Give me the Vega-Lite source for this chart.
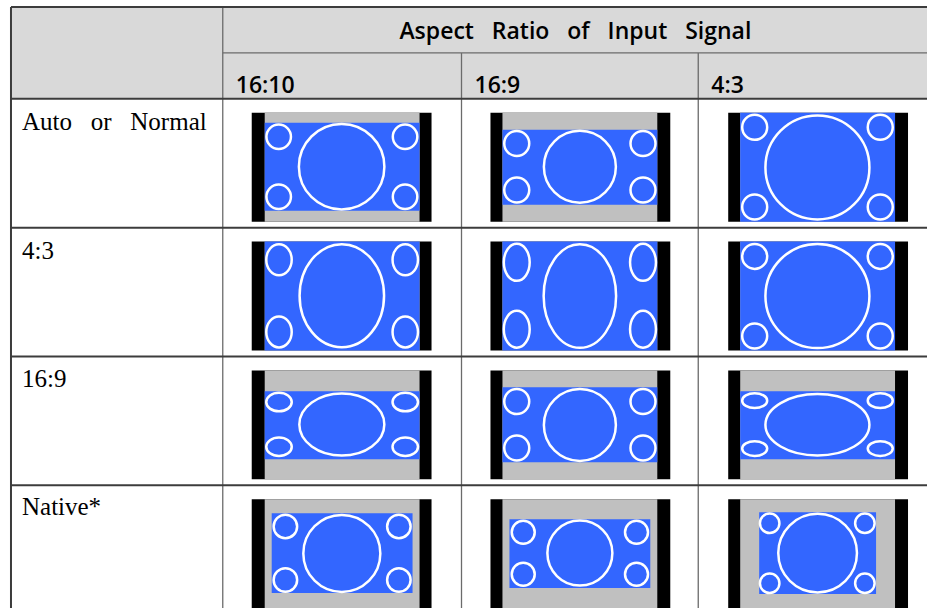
{
  "$schema": "https://vega.github.io/schema/vega-lite/v6.json",
  "width": 928,
  "height": 609,
  "padding": 0,
  "autosize": {"type": "fit", "contains": "padding"},
  "background": "white",
  "config": {"view": {"stroke": null}},
  "datasets": {
    "header": [{"x": 11, "x2": 928, "y": 7, "y2": 99}],
    "diagram": [
      {"mode": "Auto or Normal", "signal": "16:10", "part": "frame", "x": 252, "x2": 432, "y": 113, "y2": 222},
      {"mode": "Auto or Normal", "signal": "16:10", "part": "screen", "x": 265, "x2": 420, "y": 113, "y2": 222},
      {"mode": "Auto or Normal", "signal": "16:10", "part": "image", "x": 265, "x2": 420, "y": 123, "y2": 211},
      {"mode": "Auto or Normal", "signal": "16:9", "part": "frame", "x": 491, "x2": 671, "y": 113, "y2": 222},
      {"mode": "Auto or Normal", "signal": "16:9", "part": "screen", "x": 503, "x2": 658, "y": 113, "y2": 222},
      {"mode": "Auto or Normal", "signal": "16:9", "part": "image", "x": 503, "x2": 658, "y": 130, "y2": 205},
      {"mode": "Auto or Normal", "signal": "4:3", "part": "frame", "x": 729, "x2": 909, "y": 113, "y2": 222},
      {"mode": "Auto or Normal", "signal": "4:3", "part": "screen", "x": 741, "x2": 896, "y": 113, "y2": 222},
      {"mode": "Auto or Normal", "signal": "4:3", "part": "image", "x": 741, "x2": 896, "y": 113, "y2": 222},
      {"mode": "4:3", "signal": "16:10", "part": "frame", "x": 252, "x2": 432, "y": 242, "y2": 351},
      {"mode": "4:3", "signal": "16:10", "part": "screen", "x": 265, "x2": 420, "y": 242, "y2": 351},
      {"mode": "4:3", "signal": "16:10", "part": "image", "x": 265, "x2": 420, "y": 242, "y2": 351},
      {"mode": "4:3", "signal": "16:9", "part": "frame", "x": 491, "x2": 671, "y": 242, "y2": 351},
      {"mode": "4:3", "signal": "16:9", "part": "screen", "x": 503, "x2": 658, "y": 242, "y2": 351},
      {"mode": "4:3", "signal": "16:9", "part": "image", "x": 503, "x2": 658, "y": 242, "y2": 351},
      {"mode": "4:3", "signal": "4:3", "part": "frame", "x": 729, "x2": 909, "y": 242, "y2": 351},
      {"mode": "4:3", "signal": "4:3", "part": "screen", "x": 741, "x2": 896, "y": 242, "y2": 351},
      {"mode": "4:3", "signal": "4:3", "part": "image", "x": 741, "x2": 896, "y": 242, "y2": 351},
      {"mode": "16:9", "signal": "16:10", "part": "frame", "x": 252, "x2": 432, "y": 371, "y2": 480},
      {"mode": "16:9", "signal": "16:10", "part": "screen", "x": 265, "x2": 420, "y": 371, "y2": 480},
      {"mode": "16:9", "signal": "16:10", "part": "image", "x": 265, "x2": 420, "y": 392, "y2": 460},
      {"mode": "16:9", "signal": "16:9", "part": "frame", "x": 491, "x2": 671, "y": 371, "y2": 480},
      {"mode": "16:9", "signal": "16:9", "part": "screen", "x": 503, "x2": 658, "y": 371, "y2": 480},
      {"mode": "16:9", "signal": "16:9", "part": "image", "x": 503, "x2": 658, "y": 388, "y2": 463},
      {"mode": "16:9", "signal": "4:3", "part": "frame", "x": 729, "x2": 909, "y": 371, "y2": 480},
      {"mode": "16:9", "signal": "4:3", "part": "screen", "x": 741, "x2": 896, "y": 371, "y2": 480},
      {"mode": "16:9", "signal": "4:3", "part": "image", "x": 741, "x2": 896, "y": 392, "y2": 460},
      {"mode": "Native", "signal": "16:10", "part": "frame", "x": 252, "x2": 432, "y": 500, "y2": 609},
      {"mode": "Native", "signal": "16:10", "part": "screen", "x": 265, "x2": 420, "y": 500, "y2": 609},
      {"mode": "Native", "signal": "16:10", "part": "image", "x": 272, "x2": 413, "y": 514, "y2": 594},
      {"mode": "Native", "signal": "16:9", "part": "frame", "x": 491, "x2": 671, "y": 500, "y2": 609},
      {"mode": "Native", "signal": "16:9", "part": "screen", "x": 503, "x2": 658, "y": 500, "y2": 609},
      {"mode": "Native", "signal": "16:9", "part": "image", "x": 510, "x2": 651, "y": 520, "y2": 589},
      {"mode": "Native", "signal": "4:3", "part": "frame", "x": 729, "x2": 909, "y": 500, "y2": 609},
      {"mode": "Native", "signal": "4:3", "part": "screen", "x": 741, "x2": 896, "y": 500, "y2": 609},
      {"mode": "Native", "signal": "4:3", "part": "image", "x": 760, "x2": 877, "y": 513, "y2": 595}
    ],
    "ellipses": [
      {"mode": "Auto or Normal", "signal": "16:10", "shape": "circle", "x": 342, "y": 167, "d": 85.5},
      {"mode": "Auto or Normal", "signal": "16:10", "shape": "circle", "x": 279, "y": 137, "d": 24.5},
      {"mode": "Auto or Normal", "signal": "16:10", "shape": "circle", "x": 405.5, "y": 137, "d": 24.5},
      {"mode": "Auto or Normal", "signal": "16:10", "shape": "circle", "x": 279, "y": 197, "d": 24.5},
      {"mode": "Auto or Normal", "signal": "16:10", "shape": "circle", "x": 405.5, "y": 197, "d": 24.5},
      {"mode": "Auto or Normal", "signal": "16:9", "shape": "circle", "x": 580.5, "y": 167, "d": 72},
      {"mode": "Auto or Normal", "signal": "16:9", "shape": "circle", "x": 517.3, "y": 143.7, "d": 25},
      {"mode": "Auto or Normal", "signal": "16:9", "shape": "circle", "x": 643.7, "y": 143.7, "d": 25},
      {"mode": "Auto or Normal", "signal": "16:9", "shape": "circle", "x": 517.3, "y": 190.3, "d": 25},
      {"mode": "Auto or Normal", "signal": "16:9", "shape": "circle", "x": 643.7, "y": 190.3, "d": 25},
      {"mode": "Auto or Normal", "signal": "4:3", "shape": "circle", "x": 818.3, "y": 167.7, "d": 104},
      {"mode": "Auto or Normal", "signal": "4:3", "shape": "circle", "x": 755.5, "y": 127.5, "d": 25},
      {"mode": "Auto or Normal", "signal": "4:3", "shape": "circle", "x": 881.2, "y": 127.5, "d": 25},
      {"mode": "Auto or Normal", "signal": "4:3", "shape": "circle", "x": 755.5, "y": 207.3, "d": 25},
      {"mode": "Auto or Normal", "signal": "4:3", "shape": "circle", "x": 881.2, "y": 207.3, "d": 25},
      {"mode": "4:3", "signal": "16:10", "shape": "tallA", "x": 342.2, "y": 296.2, "d": 103},
      {"mode": "4:3", "signal": "16:10", "shape": "tallA", "x": 279.3, "y": 260.2, "d": 31},
      {"mode": "4:3", "signal": "16:10", "shape": "tallA", "x": 405.7, "y": 260.2, "d": 31},
      {"mode": "4:3", "signal": "16:10", "shape": "tallA", "x": 279.3, "y": 332.5, "d": 31},
      {"mode": "4:3", "signal": "16:10", "shape": "tallA", "x": 405.7, "y": 332.5, "d": 31},
      {"mode": "4:3", "signal": "16:9", "shape": "tallB", "x": 580.5, "y": 296.5, "d": 103.5},
      {"mode": "4:3", "signal": "16:9", "shape": "tallB", "x": 517.3, "y": 262.8, "d": 37},
      {"mode": "4:3", "signal": "16:9", "shape": "tallB", "x": 643.7, "y": 262.8, "d": 37},
      {"mode": "4:3", "signal": "16:9", "shape": "tallB", "x": 517.3, "y": 329.8, "d": 37},
      {"mode": "4:3", "signal": "16:9", "shape": "tallB", "x": 643.7, "y": 329.8, "d": 37},
      {"mode": "4:3", "signal": "4:3", "shape": "circle", "x": 818.3, "y": 296.5, "d": 104},
      {"mode": "4:3", "signal": "4:3", "shape": "circle", "x": 755.5, "y": 256.8, "d": 25},
      {"mode": "4:3", "signal": "4:3", "shape": "circle", "x": 881.2, "y": 256.8, "d": 25},
      {"mode": "4:3", "signal": "4:3", "shape": "circle", "x": 755.5, "y": 336.5, "d": 25},
      {"mode": "4:3", "signal": "4:3", "shape": "circle", "x": 881.2, "y": 336.5, "d": 25},
      {"mode": "16:9", "signal": "16:10", "shape": "wideA", "x": 342.2, "y": 425.2, "d": 85},
      {"mode": "16:9", "signal": "16:10", "shape": "wideA", "x": 279.3, "y": 402.7, "d": 25.5},
      {"mode": "16:9", "signal": "16:10", "shape": "wideA", "x": 405.7, "y": 402.7, "d": 25.5},
      {"mode": "16:9", "signal": "16:10", "shape": "wideA", "x": 279.3, "y": 447.5, "d": 25.5},
      {"mode": "16:9", "signal": "16:10", "shape": "wideA", "x": 405.7, "y": 447.5, "d": 25.5},
      {"mode": "16:9", "signal": "16:9", "shape": "circle", "x": 580.5, "y": 425.7, "d": 72},
      {"mode": "16:9", "signal": "16:9", "shape": "circle", "x": 517.3, "y": 402.2, "d": 25},
      {"mode": "16:9", "signal": "16:9", "shape": "circle", "x": 643.7, "y": 402.2, "d": 25},
      {"mode": "16:9", "signal": "16:9", "shape": "circle", "x": 517.3, "y": 448.7, "d": 25},
      {"mode": "16:9", "signal": "16:9", "shape": "circle", "x": 643.7, "y": 448.7, "d": 25},
      {"mode": "16:9", "signal": "4:3", "shape": "wideB", "x": 818.3, "y": 425.5, "d": 104},
      {"mode": "16:9", "signal": "4:3", "shape": "wideB", "x": 755.5, "y": 401.3, "d": 25},
      {"mode": "16:9", "signal": "4:3", "shape": "wideB", "x": 881.2, "y": 401.3, "d": 25},
      {"mode": "16:9", "signal": "4:3", "shape": "wideB", "x": 755.5, "y": 449.3, "d": 25},
      {"mode": "16:9", "signal": "4:3", "shape": "wideB", "x": 881.2, "y": 449.3, "d": 25},
      {"mode": "Native", "signal": "16:10", "shape": "circle", "x": 342.2, "y": 554.3, "d": 77},
      {"mode": "Native", "signal": "16:10", "shape": "circle", "x": 285.7, "y": 527.3, "d": 23.5},
      {"mode": "Native", "signal": "16:10", "shape": "circle", "x": 399.3, "y": 527.3, "d": 23.5},
      {"mode": "Native", "signal": "16:10", "shape": "circle", "x": 285.7, "y": 581, "d": 23.5},
      {"mode": "Native", "signal": "16:10", "shape": "circle", "x": 399.3, "y": 581, "d": 23.5},
      {"mode": "Native", "signal": "16:9", "shape": "circle", "x": 580.5, "y": 554, "d": 65},
      {"mode": "Native", "signal": "16:9", "shape": "circle", "x": 523.8, "y": 533.2, "d": 23},
      {"mode": "Native", "signal": "16:9", "shape": "circle", "x": 637.2, "y": 533.2, "d": 23},
      {"mode": "Native", "signal": "16:9", "shape": "circle", "x": 523.8, "y": 575.2, "d": 23},
      {"mode": "Native", "signal": "16:9", "shape": "circle", "x": 637.2, "y": 575.2, "d": 23},
      {"mode": "Native", "signal": "4:3", "shape": "circle", "x": 818.5, "y": 554, "d": 78.7},
      {"mode": "Native", "signal": "4:3", "shape": "circle", "x": 770.5, "y": 524.2, "d": 19.5},
      {"mode": "Native", "signal": "4:3", "shape": "circle", "x": 865.8, "y": 524.2, "d": 19.5},
      {"mode": "Native", "signal": "4:3", "shape": "circle", "x": 770.5, "y": 584.2, "d": 19.5},
      {"mode": "Native", "signal": "4:3", "shape": "circle", "x": 865.8, "y": 584.2, "d": 19.5}
    ],
    "thickLines": [
      {"x": 11, "x2": 928, "y": 7, "y2": 7},
      {"x": 11, "x2": 11, "y": 7, "y2": 609},
      {"x": 11, "x2": 928, "y": 99, "y2": 99},
      {"x": 11, "x2": 928, "y": 228, "y2": 228},
      {"x": 11, "x2": 928, "y": 357, "y2": 357},
      {"x": 11, "x2": 928, "y": 486, "y2": 486}
    ],
    "thinLines": [
      {"x": 223, "x2": 928, "y": 53, "y2": 53},
      {"x": 223, "x2": 223, "y": 7, "y2": 609},
      {"x": 462, "x2": 462, "y": 53, "y2": 609},
      {"x": 699, "x2": 699, "y": 53, "y2": 609}
    ],
    "title": [{"label": "Aspect \u00a0\u00a0Ratio \u00a0\u00a0of \u00a0\u00a0Input \u00a0\u00a0Signal", "x": 576, "y": 39}],
    "columns": [
      {"label": "16:10", "x": 236, "y": 93},
      {"label": "16:9", "x": 475, "y": 93},
      {"label": "4:3", "x": 712, "y": 93}
    ],
    "rows": [
      {"label": "Auto \u00a0\u00a0or \u00a0\u00a0Normal", "x": 22, "y": 130},
      {"label": "4:3", "x": 22, "y": 259},
      {"label": "16:9", "x": 22, "y": 388},
      {"label": "Native*", "x": 22, "y": 516}
    ]
  },
  "layer": [
    {
      "data": {"name": "header"},
      "mark": {"type": "rect", "color": "#d9d9d9"},
      "encoding": {
        "x": {"field": "x", "type": "quantitative", "scale": {"domain": [0, 928], "nice": false, "zero": false}, "axis": null},
        "x2": {"field": "x2"},
        "y": {"field": "y", "type": "quantitative", "scale": {"domain": [0, 609], "nice": false, "zero": false, "reverse": true}, "axis": null},
        "y2": {"field": "y2"}
      }
    },
    {
      "data": {"name": "diagram"},
      "mark": {"type": "rect"},
      "encoding": {
        "x": {"field": "x", "type": "quantitative", "scale": {"domain": [0, 928], "nice": false, "zero": false}, "axis": null},
        "x2": {"field": "x2"},
        "y": {"field": "y", "type": "quantitative", "scale": {"domain": [0, 609], "nice": false, "zero": false, "reverse": true}, "axis": null},
        "y2": {"field": "y2"},
        "color": {"field": "part", "type": "nominal", "scale": {"domain": ["frame", "screen", "image"], "range": ["#000000", "#c0c0c0", "#3366ff"]}, "legend": null}
      }
    },
    {
      "data": {"name": "ellipses"},
      "mark": {"type": "point", "filled": false, "color": "white", "opacity": 1, "strokeWidth": 2.5},
      "encoding": {
        "x": {"field": "x", "type": "quantitative", "scale": {"domain": [0, 928], "nice": false, "zero": false}, "axis": null},
        "y": {"field": "y", "type": "quantitative", "scale": {"domain": [0, 609], "nice": false, "zero": false, "reverse": true}, "axis": null},
        "size": {"field": "d", "type": "quantitative", "scale": {"type": "pow", "exponent": 2, "domain": [0, 100], "range": [0, 10000], "zero": true}, "legend": null},
        "shape": {"field": "shape", "type": "nominal", "scale": {"domain": ["circle", "tallA", "tallB", "wideA", "wideB"], "range": ["circle", "M-0.82,0A0.82,1,0,1,1,0.82,0A0.82,1,0,1,1,-0.82,0Z", "M-0.7,0A0.7,1,0,1,1,0.7,0A0.7,1,0,1,1,-0.7,0Z", "M-1,0A1,0.73,0,1,1,1,0A1,0.73,0,1,1,-1,0Z", "M-1,0A1,0.59,0,1,1,1,0A1,0.59,0,1,1,-1,0Z"]}, "legend": null}
      }
    },
    {
      "data": {"name": "thinLines"},
      "mark": {"type": "rule", "color": "#6b6b6b", "strokeWidth": 1.3},
      "encoding": {
        "x": {"field": "x", "type": "quantitative", "scale": {"domain": [0, 928], "nice": false, "zero": false}, "axis": null},
        "x2": {"field": "x2"},
        "y": {"field": "y", "type": "quantitative", "scale": {"domain": [0, 609], "nice": false, "zero": false, "reverse": true}, "axis": null},
        "y2": {"field": "y2"}
      }
    },
    {
      "data": {"name": "thickLines"},
      "mark": {"type": "rule", "color": "#3c3c3c", "strokeWidth": 2},
      "encoding": {
        "x": {"field": "x", "type": "quantitative", "scale": {"domain": [0, 928], "nice": false, "zero": false}, "axis": null},
        "x2": {"field": "x2"},
        "y": {"field": "y", "type": "quantitative", "scale": {"domain": [0, 609], "nice": false, "zero": false, "reverse": true}, "axis": null},
        "y2": {"field": "y2"}
      }
    },
    {
      "data": {"name": "title"},
      "mark": {"type": "text", "font": "Open Sans", "fontSize": 23, "fontWeight": 600, "align": "center", "baseline": "alphabetic", "color": "#000000"},
      "encoding": {
        "x": {"field": "x", "type": "quantitative", "scale": {"domain": [0, 928], "nice": false, "zero": false}, "axis": null},
        "y": {"field": "y", "type": "quantitative", "scale": {"domain": [0, 609], "nice": false, "zero": false, "reverse": true}, "axis": null},
        "text": {"field": "label"}
      }
    },
    {
      "data": {"name": "columns"},
      "mark": {"type": "text", "font": "Open Sans", "fontSize": 23, "fontWeight": 600, "align": "left", "baseline": "alphabetic", "color": "#000000"},
      "encoding": {
        "x": {"field": "x", "type": "quantitative", "scale": {"domain": [0, 928], "nice": false, "zero": false}, "axis": null},
        "y": {"field": "y", "type": "quantitative", "scale": {"domain": [0, 609], "nice": false, "zero": false, "reverse": true}, "axis": null},
        "text": {"field": "label"}
      }
    },
    {
      "data": {"name": "rows"},
      "mark": {"type": "text", "font": "Liberation Serif", "fontSize": 25, "align": "left", "baseline": "alphabetic", "color": "#000000"},
      "encoding": {
        "x": {"field": "x", "type": "quantitative", "scale": {"domain": [0, 928], "nice": false, "zero": false}, "axis": null},
        "y": {"field": "y", "type": "quantitative", "scale": {"domain": [0, 609], "nice": false, "zero": false, "reverse": true}, "axis": null},
        "text": {"field": "label"}
      }
    }
  ]
}
